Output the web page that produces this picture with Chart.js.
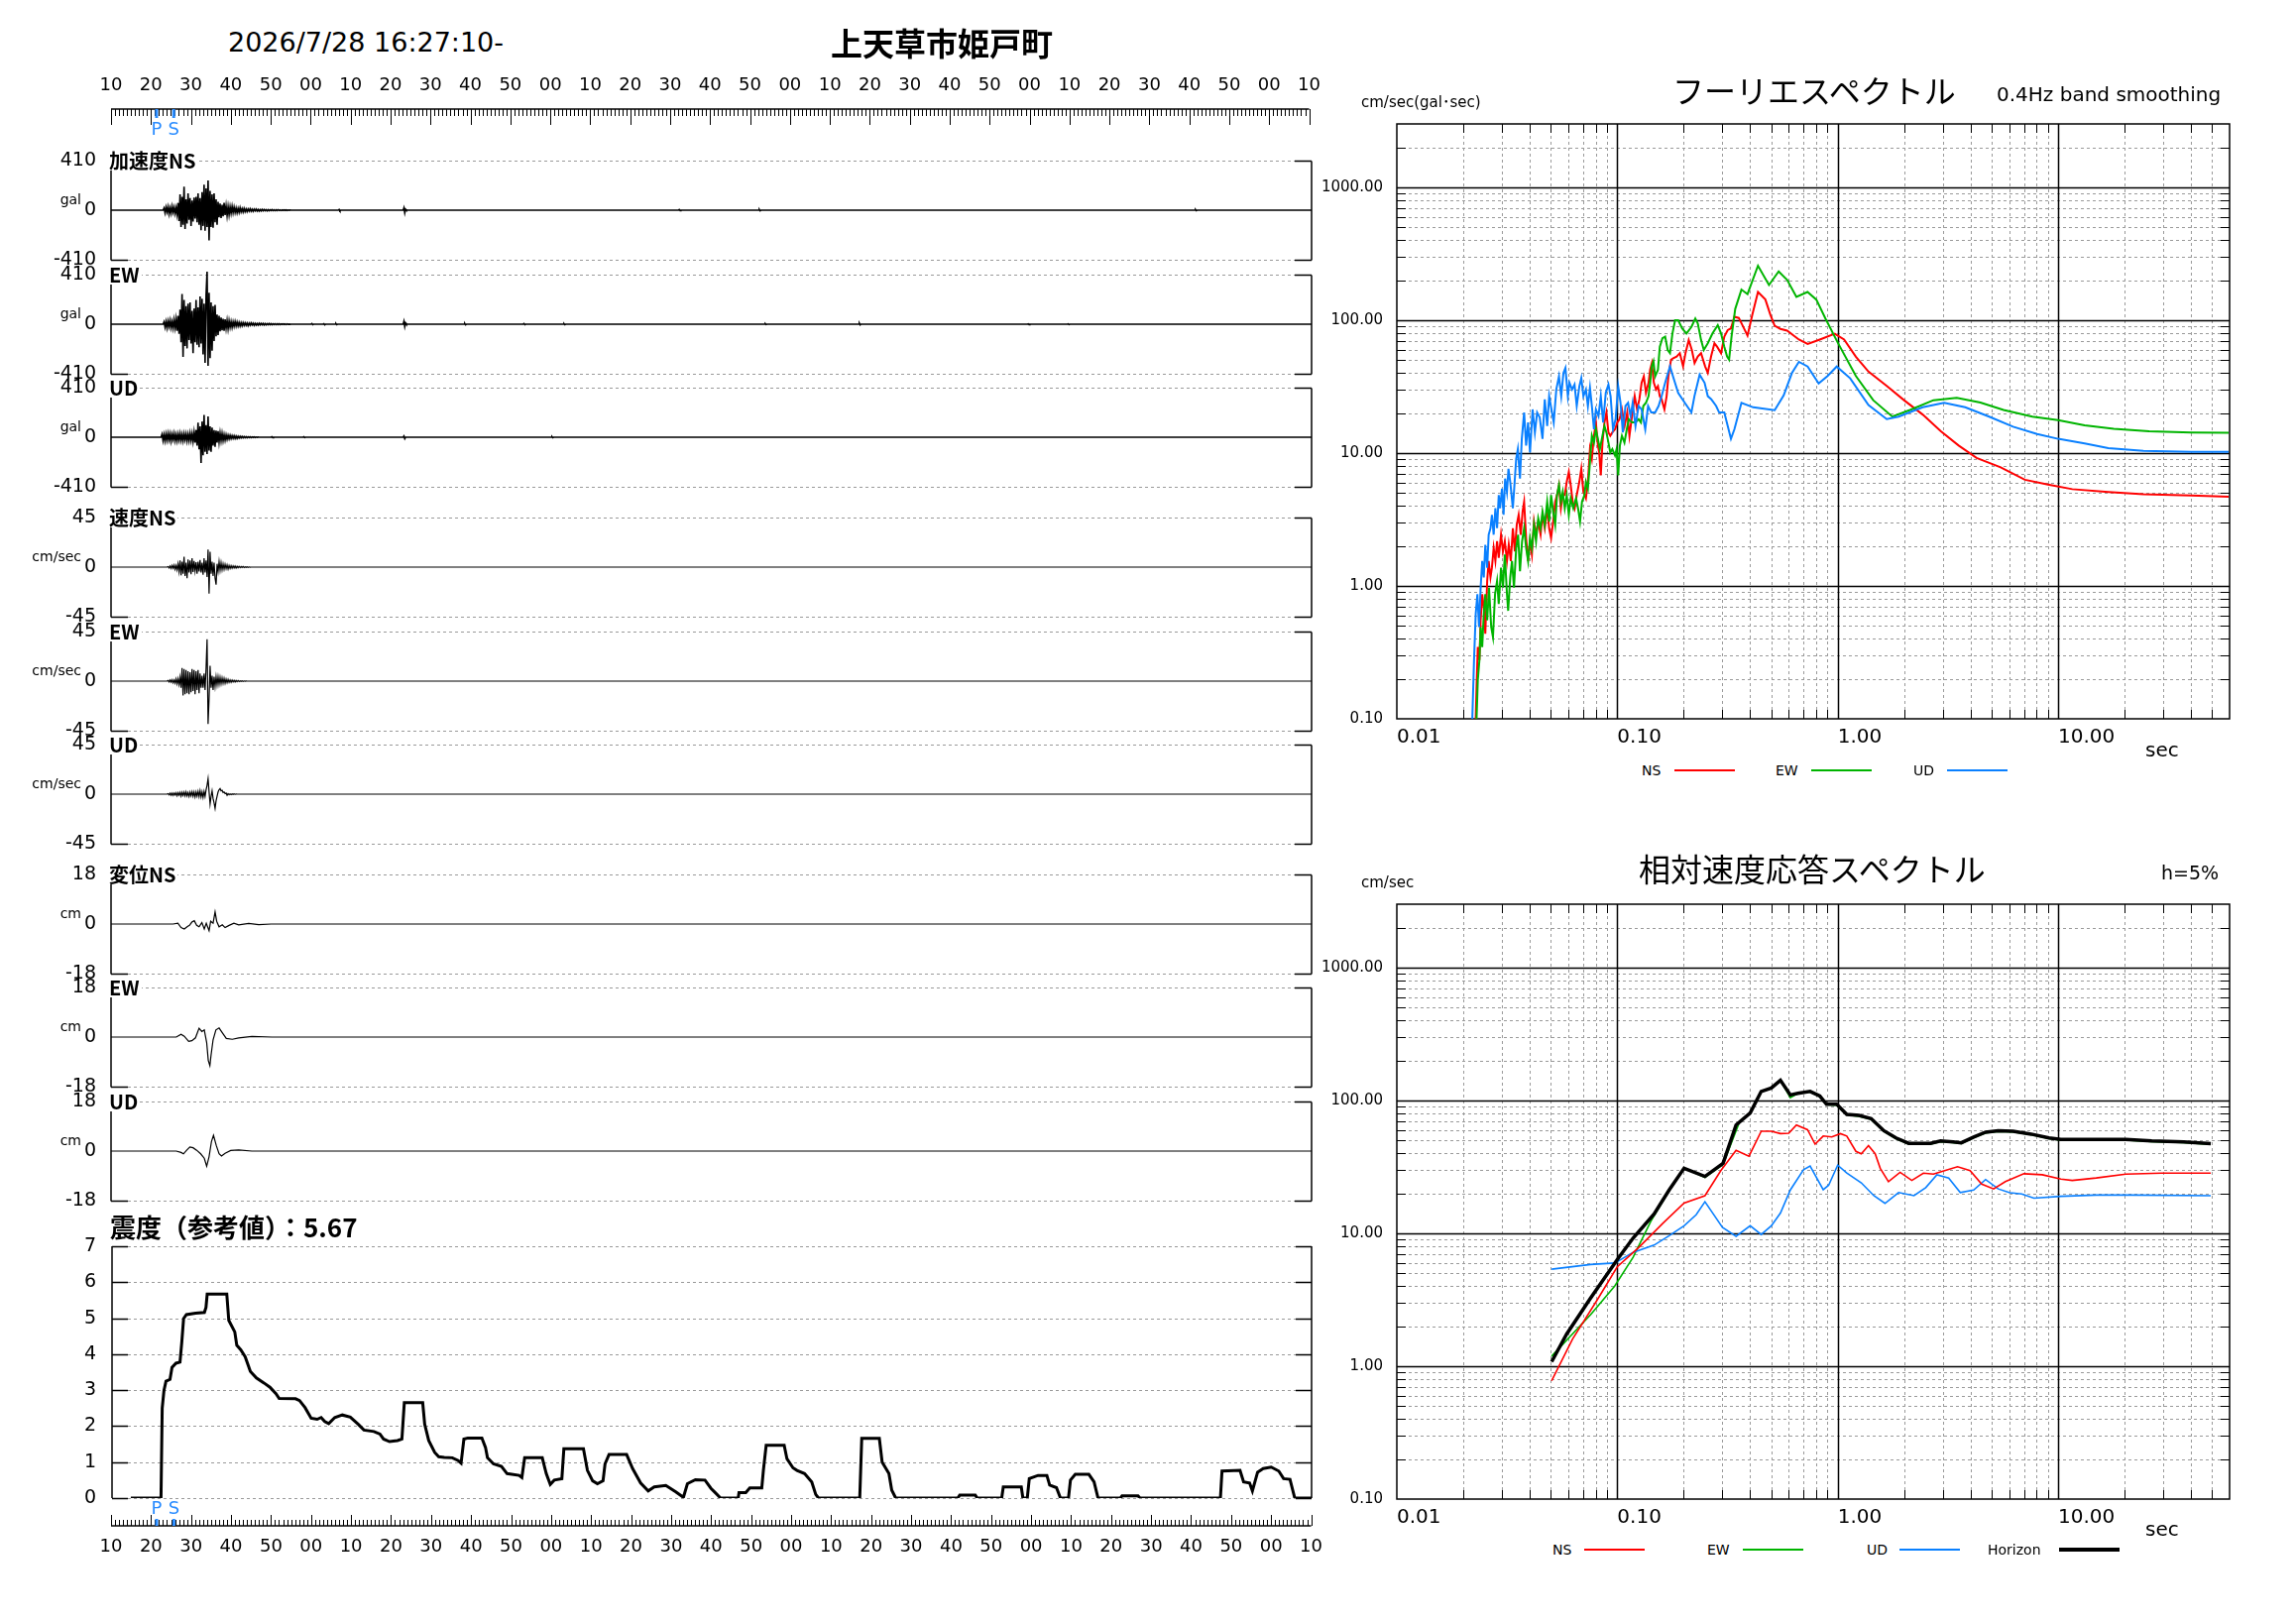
<!DOCTYPE html>
<html>
<head>
<meta charset="utf-8">
<title>上天草市姫戸町</title>
<script src="https://cdn.jsdelivr.net/npm/chart.js@4.4.1/dist/chart.umd.min.js"></script>
<style>
html, body { margin: 0; padding: 0; background: #fff; }
#page { position: relative; width: 2316px; height: 1637px; overflow: hidden; background: #fff;
        font-family: "DejaVu Sans", "Noto Sans CJK JP", sans-serif; color: #000; }
canvas { position: absolute; }
.t { position: absolute; white-space: nowrap; line-height: 1; transform: translateY(-50%); z-index: 5; }
.r { transform: translate(-100%, -50%); }
.bg { background: #fff; padding-right: 2px; }
.jp { font-family: "Noto Sans CJK JP", "DejaVu Sans", sans-serif; }
.b { font-weight: bold; }
.key { position: absolute; z-index: 5; }
</style>
</head>
<body>
<div id="page"></div>
<script>
// ---- time axis: seconds after 16:27:10 ----
var timeTicks = ['10','20','30','40','50','00','10','20','30','40','50','00','10','20','30','40','50','00',
                 '10','20','30','40','50','00','10','20','30','40','50','00','10'];
var phaseNames = ['P', 'S'];
var phaseTimes = [11.4, 15.7];

var accRange = 410, velRange = 45, dispRange = 18;

// acceleration (gal), sampled every 0.25 s
var accDt = 0.25;
var accNSStart = 13.0;
var accNS = [0,18,-22,25,-15,28,-30,20,-25,32,-18,24,-28,20,-35,60,
  -90,130,-140,110,-120,195,-155,90,-110,140,-80,100,
  -130,80,-95,105,-70,110,-100,140,-120,100,-165,150,
  -130,210,-170,180,-140,245,-250,160,-140,130,-145,140,
  -100,90,-120,70,-60,55,-65,45,-50,60,-40,35,-45,30,-38,28,
  -25,32,-22,25,-20,18,-22,15,-18,20,-14,12,-15,14,-12,10,
  -12,10,-8,12,-9,7,-10,8,-6,9,-7,6,-8,5,-6,7,-5,6,-4,5,-6,4,-5,4,
  -3,5,-4,3,-4,3,-3,4,-3,2,-3,2,-2,3,-2,2,-2,2,-1,1,0];
var accNSBlips = [[56.8,0],[57.0,6],[57.2,-5],[57.4,0],[73.0,0],[73.2,20],[73.4,-22],[73.6,8],[73.8,0],
  [141.8,0],[142.0,5],[142.2,-4],[142.4,0],[161.8,0],[162.0,6],[162.2,-5],[162.4,0],
  [270.8,0],[271.0,5],[271.2,-4],[271.4,0]];

var accEWStart = 13.0;
var accEW = [0,20,-25,22,-30,26,-20,30,-28,22,-32,35,-30,40,-55,70,
  -80,120,-150,250,-270,200,-180,150,-200,170,-130,180,
  -160,110,-240,130,-150,200,-170,140,-190,230,-160,210,
  -250,170,-320,240,435,-345,260,-280,180,-220,150,-140,
  160,-100,80,-90,70,-60,55,-50,45,-55,40,-35,30,-38,28,-25,
  22,-26,20,-18,22,-16,18,-15,14,-16,12,-14,12,-10,11,-9,
  10,-12,8,-9,10,-7,8,-9,7,-8,6,-7,8,-6,7,-5,6,-7,5,-6,5,-4,6,-5,
  4,-5,4,-3,4,-4,3,-3,4,-3,3,-2,3,-2,2,-3,2,-2,1,-1,0];
var accEWBlips = [[50.0,0],[50.2,5],[50.4,-4],[50.6,0],[53.0,0],[53.2,4],[53.4,-5],[53.6,0],
  [56.0,0],[56.2,5],[56.4,-4],[56.6,0],[73.0,0],[73.2,24],[73.4,-20],[73.6,10],[73.8,0],
  [88.2,0],[88.4,6],[88.6,-5],[88.8,0],[103.0,0],[103.2,5],[103.4,-4],[103.6,0],
  [113.0,0],[113.2,4],[113.4,-4],[113.6,0],[163.3,0],[163.5,4],[163.7,-3],[163.9,0],
  [186.8,0],[187.0,7],[187.2,-6],[187.4,0],[229.0,0],[229.2,3],[229.4,-3],[229.6,0],
  [239.0,0],[239.2,3],[239.4,-3],[239.6,0]];

var accUDStart = 12.5;
var accUD = [0,25,-28,22,-30,27,-25,30,-22,28,-32,25,-20,30,-28,22,-30,26,-24,30,-26,24,-30,28,
  -22,27,-30,25,-28,32,-26,30,-35,40,-45,60,-70,120,-100,90,-213,130,-150,184,-120,100,-140,173,
  -110,90,-120,80,-70,60,-80,55,-45,50,-40,35,-30,32,-28,22,-25,20,-18,16,-14,15,-12,13,-10,12,
  -11,9,-10,8,-7,8,-6,7,-5,6,-5,4,-5,4,-3,4,-3,3,-2,3,-2,2,-1,1,0];
var accUDBlips = [[40.0,0],[40.2,4],[40.4,-3],[40.6,0],[48.0,0],[48.2,4],[48.4,-3],[48.6,0],
  [73.0,0],[73.2,10],[73.4,-12],[73.6,0],[110.0,0],[110.2,4],[110.4,-4],[110.6,0]];

// velocity (cm/sec), sampled every 0.25 s from 14.0 s
var velDt = 0.25, velStart = 14.0;
var velNS = [0,0.5,-0.8,1.0,-1.2,1.5,-1.0,1.8,-2.0,1.5,-2.5,3.0,-4.0,6.0,-7.5,5.0,-6.0,9.4,-8.0,4.0,
  -10.0,7.0,-5.0,6.0,-6.5,8.0,-4.5,5.5,-3.5,4.5,-6.0,5.0,-4.0,6.5,-5.0,4.0,-7.0,8.0,-5.0,6.0,
  -9.0,16.0,-24.0,14.0,-6.0,5.0,-8.0,4.0,-10.0,-16.0,3.0,-4.0,5.0,-3.0,4.0,-2.5,3.0,-2.0,2.5,-1.5,
  2.0,-1.8,1.5,-1.2,1.4,-1.0,1.2,-0.8,1.0,-0.9,0.8,-0.6,0.7,-0.5,0.6,-0.4,0.5,-0.4,0.3,-0.3,
  0.3,-0.2,0.2,-0.1,0];
var velEW = [0,0.6,-0.8,1.0,-0.9,1.2,-1.5,1.0,-1.8,2.0,-2.5,2.2,-3.0,3.5,-6.0,12.0,-13.0,11.0,-12.0,10.0,
  -11.0,9.0,-12.0,8.0,-10.0,11.0,-9.0,10.0,-12.0,9.0,-8.0,10.0,-11.0,7.0,-6.0,5.0,-6.0,7.0,-8.0,12.0,
  38.0,-39.0,-16.0,14.0,-6.0,5.0,-8.0,4.0,-5.0,4.0,-3.5,4.0,-3.0,3.5,-2.5,3.0,-2.0,2.5,-2.0,1.8,
  -1.5,1.6,-1.2,1.0,-1.2,0.9,-0.8,0.7,-0.8,0.6,-0.5,0.5,-0.4,0.3,-0.3,0.2,-0.2,0.2,-0.1,0.1,0];
var velUD = [0,0.5,-0.7,0.8,-1.0,0.9,-1.2,1.0,-0.8,1.2,-1.5,1.3,-1.0,1.5,-1.8,1.6,-1.2,1.8,-1.5,2.0,
  -1.6,1.4,-2.0,1.8,-1.5,2.2,-1.8,2.0,-2.5,2.0,-1.8,2.5,-2.2,3.0,-2.5,2.0,-3.0,2.5,-2.0,4.0,
  8.0,14.0,2.0,-9.0,-2.0,3.0,-4.0,-8.0,-13.0,-6.0,-2.0,2.0,4.0,5.0,3.0,3.5,1.5,2.0,0.5,1.0,
  -1.0,0.5,-0.5,0.3,-0.4,0.3,-0.3,0.2,-0.2,0.1,0];

// displacement (cm), [time, value]
var dispNS = [[15.5,0],[16.7,0.3],[17.5,-1.3],[18.3,-1.8],[19.1,-0.9],[19.6,-0.5],[20.2,0.7],[20.8,1.2],
  [21.4,-0.5],[22.0,-1.0],[22.7,0.5],[23.3,-1.8],[23.8,0.3],[24.5,-2.4],[24.9,1.0],[25.5,0.3],[26.0,4.4],
  [26.4,1.0],[27.0,-1.0],[27.8,-0.3],[28.5,-1.3],[29.5,-0.5],[30.7,0.3],[31.9,-0.3],[34.4,0.2],[36.9,-0.2],[40,0]];
var dispEW = [[16.3,0],[17.5,1.0],[18.3,0.3],[19.4,-1.6],[20.2,-1.3],[21.1,-0.3],[22.0,3.2],[22.7,2.0],
  [23.3,2.6],[23.9,-2.0],[24.3,-8.5],[24.7,-10.4],[25.0,-6.5],[25.5,-1.0],[26.2,2.6],[27.0,3.3],[27.8,1.6],
  [28.8,-0.5],[30.3,-0.8],[31.9,-0.3],[35.2,0.2],[40.2,0]];
var dispUD = [[16.3,0],[17.5,-0.5],[18.1,-1.0],[18.9,0.3],[19.7,1.5],[20.5,1.2],[21.4,0.3],[22.4,-1.0],
  [23.3,-2.6],[23.9,-5.5],[24.5,-2.0],[25.1,3.5],[25.6,5.7],[26.3,2.0],[27.0,-1.0],[27.6,-1.8],[28.5,-0.8],
  [29.9,0.2],[31.9,0.4],[35.2,0],[40,0]];

// seismic intensity (reference value), [time, value]
var intensityTitle = '震度（参考値）：5.67';
var intensityTicks = [0, 1, 2, 3, 4, 5, 6, 7];
var intensity = [[4.7,0],[12.25,0],[12.55,2.5],[13.0,3.0],[13.5,3.25],[14.5,3.3],[15.0,3.63],[16.0,3.75],
  [17.0,3.78],[17.45,4.34],[17.9,4.99],[18.6,5.1],[20.9,5.14],[23.1,5.16],[23.5,5.3],[23.8,5.67],[28.7,5.67],
  [29.2,4.94],[30.7,4.62],[31.2,4.25],[32.2,4.12],[33.3,3.93],[34.6,3.52],[36.1,3.34],[38.0,3.2],[39.5,3.08],
  [41.0,2.9],[41.8,2.77],[45.9,2.76],[46.9,2.71],[48.3,2.51],[49.8,2.22],[51.3,2.19],[52.3,2.24],[53.2,2.13],
  [54.2,2.07],[55.7,2.24],[57.6,2.31],[59.6,2.25],[61.6,2.05],[63.0,1.89],[65.5,1.85],[67.0,1.78],[67.9,1.64],
  [69.4,1.57],[71.4,1.6],[72.5,1.64],[73.1,2.65],[77.7,2.65],[78.2,2.05],[79.2,1.6],[80.7,1.27],[81.7,1.15],
  [83.1,1.13],[85.1,1.12],[86.6,1.04],[87.3,0.97],[88.0,1.64],[89.0,1.67],[92.5,1.67],[93.4,1.41],[93.9,1.12],
  [95.4,0.95],[97.4,0.88],[98.8,0.68],[101.8,0.63],[102.5,0.57],[103.2,1.12],[107.6,1.12],[108.6,0.68],
  [109.6,0.38],[110.6,0.5],[112.5,0.54],[113.0,1.37],[117.9,1.37],[118.9,0.77],[120.2,0.48],[121.4,0.4],
  [122.8,0.48],[123.3,0.95],[124.3,1.21],[128.7,1.21],[130.2,0.82],[132.2,0.42],[134.1,0.2],[135.6,0.31],
  [138.5,0.35],[141.0,0.17],[142.9,0.02],[143.9,0.4],[145.9,0.51],[148.3,0.5],[149.8,0.27],[150.7,0.17],
  [152.2,0],[156.6,0],[156.8,0.15],[158.5,0.15],[159.5,0.28],[162.5,0.28],[162.9,0.77],[163.6,1.47],
  [168.1,1.47],[168.8,1.09],[170.3,0.84],[171.3,0.77],[173.2,0.68],[175.0,0.45],[176.0,0.1],[176.7,0],
  [187.0,0],[187.5,1.66],[191.9,1.66],[192.6,1.0],[194.3,0.68],[195.0,0.22],[196.0,0],[211.5,0],[212.0,0.08],
  [215.9,0.08],[216.4,0],[222.5,0],[222.9,0.31],[227.4,0.31],[227.8,0],[228.9,0],[229.4,0.54],[231.6,0.63],
  [233.8,0.63],[234.5,0.36],[236.2,0.29],[237.2,0],[239.2,0],[239.7,0.5],[240.9,0.66],[244.3,0.66],
  [245.6,0.45],[246.6,0],[252.2,0],[252.6,0.06],[256.6,0.06],[257.1,0],[277.2,0],[277.6,0.75],[282.1,0.77],
  [283.0,0.45],[284.5,0.42],[285.2,0.2],[286.5,0.72],[287.9,0.82],[289.9,0.86],[291.8,0.75],[293.0,0.54],
  [294.6,0.52],[295.8,0],[300,0]];

// Fourier spectrum, [period sec, cm/sec]
var fourierNS = [[0.0228,0.1],[0.023,0.174],[0.0233,0.347],[0.0237,0.277],[0.024,0.55],[0.0244,0.867],[0.0248,0.69],
  [0.0252,0.437],[0.0257,1.09],[0.0261,1.54],[0.0266,1.16],[0.027,1.37],[0.0275,1.93],[0.028,1.54],[0.0285,2.17],
  [0.029,1.63],[0.0297,2.43],[0.0303,1.82],[0.0309,2.17],[0.0316,1.54],[0.0322,2.05],[0.0329,1.54],[0.0336,2.72],
  [0.0343,1.82],[0.035,2.88],[0.0357,3.43],[0.0365,2.43],[0.0372,3.62],[0.0378,4.3],[0.0386,2.29],[0.0394,1.54],
  [0.0402,2.17],[0.041,1.72],[0.0419,3.05],[0.0428,2.43],[0.0438,3.05],[0.0449,2.43],[0.0458,3.43],[0.0469,2.72],
  [0.0481,3.84],[0.0491,2.72],[0.0501,2.29],[0.0512,3.05],[0.0523,4.3],[0.0533,4.83],[0.0544,5.73],[0.0555,3.84],
  [0.0566,4.83],[0.0578,4.83],[0.059,6.07],[0.0603,7.2],[0.0615,5.73],[0.0628,4.3],[0.0641,3.84],[0.0655,4.83],
  [0.0673,6.07],[0.0687,7.62],[0.0702,5.1],[0.0721,4.56],[0.0736,6.07],[0.0752,10.7],[0.0767,9.06],[0.0784,13.5],
  [0.08,17],[0.0817,11.4],[0.0828,10.1],[0.0842,6.8],[0.0857,12],[0.0875,17],[0.0893,20.2],[0.0912,14.3],
  [0.093,13.5],[0.095,14.3],[0.0977,15.1],[0.1,17],[0.1024,18],[0.105,21.3],[0.108,16],[0.111,20.2],[0.1136,13.5],
  [0.1167,19],[0.12,26.8],[0.123,21.3],[0.126,25.4],[0.129,33.8],[0.132,37.8],[0.135,28.4],[0.1387,33.8],
  [0.141,42.4],[0.1435,47.5],[0.1466,33.8],[0.15,30.1],[0.153,31.8],[0.156,26.8],[0.159,25.4],[0.1637,21.3],
  [0.1675,26.8],[0.1706,37.8],[0.1754,50.4],[0.1795,51.8],[0.186,53.3],[0.1923,56.5],[0.199,44.9],[0.204,56.5],
  [0.211,71],[0.218,59.7],[0.2243,47.5],[0.232,53.3],[0.24,56.5],[0.2505,44.9],[0.2575,40.1],[0.2665,53.3],
  [0.276,67],[0.2837,63.2],[0.2958,56.5],[0.306,75.2],[0.317,84.2],[0.328,86.7],[0.34,106],[0.356,104],
  [0.372,90],[0.39,76.6],[0.41,110],[0.435,163],[0.47,143],[0.495,110],[0.518,90.7],[0.55,86],[0.59,83.5],
  [0.667,71.5],[0.731,66.2],[0.83,71.5],[0.97,79],[1.07,71.5],[1.21,53],[1.38,41],[1.67,32],[2.0,25],[2.43,19.5],
  [2.94,14.6],[3.54,11.4],[4.27,9.2],[5.49,7.8],[7.07,6.3],[9.0,5.8],[11.6,5.35],[16.9,5.1],[24.4,4.9],
  [40.1,4.8],[59.4,4.7]];
var fourierEW = [[0.023,0.1],[0.0233,0.195],[0.0237,0.277],[0.024,0.49],[0.0244,0.347],[0.0248,0.617],[0.0252,0.867],
  [0.0257,0.55],[0.0262,0.97],[0.0268,0.49],[0.0273,0.412],[0.0279,0.867],[0.0285,1.09],[0.029,0.73],[0.0297,1.37],
  [0.0303,0.97],[0.0309,1.72],[0.0316,0.867],[0.032,0.65],[0.0327,1.16],[0.0333,1.54],[0.034,0.97],[0.0348,1.93],
  [0.0355,2.43],[0.0362,1.29],[0.037,2.17],[0.0378,2.72],[0.0386,1.93],[0.0394,1.54],[0.0402,2.29],[0.041,1.93],
  [0.0419,2.88],[0.0428,2.17],[0.0438,3.24],[0.0449,2.72],[0.0458,3.62],[0.0469,2.88],[0.0481,4.3],[0.0491,3.05],
  [0.0501,4.83],[0.0512,3.62],[0.0523,2.88],[0.0533,4.83],[0.0544,5.73],[0.0555,4.3],[0.0566,5.1],[0.0578,3.84],
  [0.059,4.83],[0.0603,3.43],[0.0615,4.56],[0.0632,3.84],[0.065,4.56],[0.0664,3.84],[0.0678,3.05],[0.0692,4.3],
  [0.071,4.83],[0.0721,6.07],[0.0736,5.41],[0.0752,8.55],[0.0767,13.5],[0.0784,12],[0.08,15.1],[0.0817,12.8],
  [0.0834,10.7],[0.0857,13.5],[0.0875,16],[0.0893,14.3],[0.0912,12],[0.093,10.1],[0.095,10.7],[0.0977,9.6],
  [0.0993,10.7],[0.101,6.8],[0.1028,11.4],[0.105,13.5],[0.1078,12],[0.1105,15.1],[0.1128,18],[0.1167,17],
  [0.121,17],[0.125,18],[0.128,17],[0.1313,22.6],[0.135,23.9],[0.1387,26.8],[0.141,33.8],[0.1435,44.9],[0.146,49],
  [0.1486,37.8],[0.153,42.4],[0.156,63.2],[0.1603,73],[0.165,75.2],[0.1694,59.7],[0.1735,56.5],[0.178,79.5],
  [0.183,100],[0.189,100],[0.197,86.7],[0.206,79.5],[0.217,89],[0.226,103],[0.232,94.4],[0.24,71],[0.247,59.7],
  [0.2575,67],[0.2705,79.5],[0.2858,91.8],[0.2958,79.5],[0.306,63.2],[0.315,53.3],[0.3217,50.4],[0.33,75.2],
  [0.343,121.6],[0.366,170],[0.39,157],[0.435,257],[0.488,184],[0.54,233],[0.59,201],[0.65,150],[0.73,163],
  [0.8,143],[0.88,103],[1.0,68],[1.21,38],[1.45,25],[1.77,18.8],[2.13,21.1],[2.72,25],[3.47,26],[4.44,24],
  [5.66,21.1],[7.65,18.8],[10,17.7],[13.2,16.2],[17.9,15.2],[25.9,14.6],[40.1,14.3],[59.4,14.2]];
var fourierUD = [[0.022,0.1],[0.0224,0.277],[0.0228,0.617],[0.0232,0.867],[0.0236,0.49],[0.024,0.97],[0.0244,1.54],
  [0.0248,1.16],[0.0252,2.04],[0.0257,1.37],[0.0261,2.43],[0.0266,2.72],[0.027,3.43],[0.0275,2.43],[0.028,3.84],
  [0.0285,2.72],[0.029,4.83],[0.0294,3.84],[0.03,5.41],[0.0305,3.43],[0.031,6.43],[0.0316,5.1],[0.0321,7.62],
  [0.0327,6.07],[0.0336,3.84],[0.034,5.1],[0.0348,9.06],[0.0354,10.7],[0.0362,6.43],[0.0369,12.8],[0.0378,20.2],
  [0.0386,11.4],[0.0394,17],[0.0402,10.1],[0.0413,21.3],[0.0423,14.3],[0.0433,20.2],[0.0445,18.5],[0.0458,12.8],
  [0.0469,25.4],[0.0481,16],[0.0491,26.8],[0.0503,21.3],[0.0515,17],[0.0529,30.1],[0.0544,37.8],[0.0557,26.8],
  [0.057,40.1],[0.0582,43.7],[0.0597,26.8],[0.0607,33.8],[0.0624,30.1],[0.064,32.8],[0.0655,22.6],[0.0673,31.8],
  [0.0687,36.7],[0.0702,26.8],[0.0721,30.1],[0.0736,22.6],[0.0752,31],[0.0767,22.6],[0.0784,15.1],[0.08,21.3],
  [0.0822,19],[0.0842,26.8],[0.0863,17],[0.0887,28.4],[0.0912,32.8],[0.0933,26.8],[0.0957,15.1],[0.0983,18],
  [0.101,31.8],[0.1035,23.9],[0.106,14.3],[0.109,22.6],[0.112,23.9],[0.115,19],[0.1175,23.9],[0.121,16],
  [0.125,22.6],[0.129,21.3],[0.134,15.1],[0.138,22.6],[0.1426,20.2],[0.1486,20.2],[0.154,22.6],[0.159,26.8],
  [0.165,33.8],[0.1735,44.9],[0.18,36.7],[0.189,28.4],[0.2025,23.9],[0.217,20.2],[0.224,26.8],[0.2365,38.9],
  [0.249,33.8],[0.2575,26.8],[0.267,25.4],[0.281,22.6],[0.29,20.2],[0.306,20.2],[0.317,16],[0.328,12.8],
  [0.34,15.1],[0.366,23.9],[0.414,22.1],[0.518,21],[0.569,27.2],[0.62,40],[0.667,48.6],[0.731,44.8],[0.82,33.4],
  [0.9,38],[0.99,44.8],[1.14,36.5],[1.38,23],[1.67,18],[1.89,18.8],[2.43,22.1],[3.04,23.9],[3.79,22.1],
  [4.87,18.8],[6.25,15.8],[8.03,13.9],[10,12.8],[13.2,11.8],[16.9,10.9],[24.4,10.4],[40.1,10.2],[59.4,10.2]];

// relative velocity response spectrum h=5%, [period sec, cm/sec]
var responseNS = [[0.0504,0.777],[0.0627,1.6],[0.0808,3.12],[0.1,5.6],[0.125,7.8],[0.161,11.9],[0.201,16.9],
  [0.25,19.2],[0.295,29.6],[0.346,42.1],[0.396,38.1],[0.45,58.7],[0.5,58.7],[0.55,56.3],[0.6,56.7],[0.65,65.4],
  [0.73,60.2],[0.79,46.9],[0.86,54],[0.94,53.1],[1.03,56.3],[1.1,54],[1.21,41.4],[1.28,39.7],[1.38,45.8],
  [1.48,39.7],[1.56,30.9],[1.7,24.5],[1.92,28.8],[2.17,25],[2.45,28.4],[2.72,27.9],[2.98,29.2],[3.5,31.7],
  [3.99,29.6],[4.5,23.5],[5.1,21.6],[5.77,24.5],[7.0,28.1],[8.48,27.6],[10.3,25.6],[11.6,25],[14.9,26.1],
  [20.3,27.9],[29.5,28.4],[49.3,28.4]];
var responseEW = [[0.0504,1.19],[0.0757,2.44],[0.0975,4.02],[0.118,6.6],[0.142,12.3],[0.172,21],[0.201,31],
  [0.25,26.3],[0.302,33],[0.36,70],[0.401,80.5],[0.45,117],[0.5,124],[0.55,142],[0.61,105],[0.66,113],[0.75,116],
  [0.83,107],[0.89,93],[0.99,92],[1.1,78],[1.25,76],[1.42,72],[1.62,58.5],[1.84,51.5],[2.1,47],[2.64,47],
  [2.93,49],[3.34,48.2],[3.64,47.4],[4.14,52.5],[4.69,57],[5.35,58.5],[6.25,58],[7.55,55.2],[9.1,51.6],
  [10.3,50.3],[14.9,50.3],[20.3,50.3],[26.6,49],[37.1,48.2],[49.3,46.7]];
var responseUD = [[0.0504,5.37],[0.0757,5.83],[0.0975,5.98],[0.118,7.19],[0.147,8.15],[0.172,9.6],[0.201,11.4],
  [0.228,13.8],[0.25,17.3],[0.3,11.1],[0.346,9.5],[0.401,11.4],[0.45,9.8],[0.5,11.4],[0.55,14.2],[0.61,21.2],
  [0.7,30.1],[0.75,32.1],[0.86,21.3],[0.91,23],[1.0,32.6],[1.1,28.4],[1.28,24],[1.46,19.2],[1.64,16.8],
  [1.89,20.3],[2.22,19.2],[2.51,22.1],[2.82,27.6],[3.19,26.1],[3.6,20.3],[4.14,21.2],[4.69,25.4],[5.35,21.6],
  [6.04,20.2],[6.84,19.8],[7.77,18.4],[10.3,19],[14.9,19.4],[21.6,19.4],[49.3,19.2]];
var responseHorizon = [[0.0504,1.08],[0.0589,1.74],[0.0757,3.26],[0.1,6.34],[0.118,9.2],[0.147,14],[0.172,21.2],
  [0.201,30.9],[0.25,26.8],[0.302,33.6],[0.346,65.4],[0.401,80.5],[0.45,117],[0.5,124],[0.55,142],[0.61,110],
  [0.66,113],[0.75,117],[0.83,108],[0.89,93.6],[0.99,93.6],[1.1,78.5],[1.25,77.2],[1.42,73],[1.62,59.2],
  [1.84,52.2],[2.1,47.6],[2.64,47.6],[2.93,49.6],[3.34,48.8],[3.64,48],[4.14,53.1],[4.69,57.7],[5.35,59.2],
  [6.25,58.7],[7.55,55.8],[9.1,52.2],[10.3,50.9],[14.9,50.9],[20.3,50.9],[26.6,49.6],[37.1,48.8],[49.3,47.3]];

var periodTicks = [0.01, 0.1, 1, 10];
var ampTicks = [0.1, 1, 10, 100, 1000];

var colNS = '#ff0000', colEW = '#00b400', colUD = '#0a80ff', colPhase = '#2a8cff';

// ---------------------------------------------------------------
var page = document.getElementById('page');
Chart.defaults.font.family = '"DejaVu Sans", "Noto Sans CJK JP", sans-serif';
Chart.defaults.color = '#000';

function makeCanvas(left, top, w, h) {
  var c = document.createElement('canvas');
  c.width = w; c.height = h;
  c.style.left = left + 'px'; c.style.top = top + 'px';
  c.style.width = w + 'px'; c.style.height = h + 'px';
  page.appendChild(c);
  return c;
}
function text(str, x, y, size, cls, color) {
  var d = document.createElement('div');
  d.className = 't ' + (cls || '');
  d.style.left = x + 'px'; d.style.top = y + 'px'; d.style.fontSize = size + 'px';
  if (color) d.style.color = color;
  d.textContent = str;
  page.appendChild(d);
}
function key(x1, x2, y, color, w) {
  var d = document.createElement('div');
  d.className = 'key';
  d.style.left = x1 + 'px'; d.style.top = (y - w / 2) + 'px';
  d.style.width = (x2 - x1) + 'px'; d.style.height = w + 'px';
  d.style.background = color;
  page.appendChild(d);
}
function seg(ctx, x1, y1, x2, y2) {
  ctx.beginPath(); ctx.moveTo(x1, y1); ctx.lineTo(x2, y2); ctx.stroke();
}
function sampled(t0, dt, values, extra) {
  var pts = [{x: 0, y: 0}];
  values.forEach(function (v, i) { pts.push({x: t0 + i * dt, y: v}); });
  (extra || []).forEach(function (p) { pts.push({x: p[0], y: p[1]}); });
  pts.push({x: 300, y: 0});
  return pts;
}
function pairs(list, pad) {
  var pts = list.map(function (p) { return {x: p[0], y: p[1]}; });
  if (pad) { pts.unshift({x: 0, y: 0}); pts.push({x: 300, y: 0}); }
  return pts;
}
// y axis of fixed width, without extra room for the end labels
function fixedAxis(width) {
  return function (s) { s.width = width; s.paddingTop = 0; s.paddingBottom = 0; };
}

// frame of one waveform panel
var panelFrame = {
  id: 'panelFrame',
  beforeDatasetsDraw: function (chart) {
    var ctx = chart.ctx, a = chart.chartArea, y = chart.scales.y;
    var top = Math.round(y.getPixelForValue(y.max)) + 0.5;
    var bot = Math.round(y.getPixelForValue(y.min)) + 0.5;
    ctx.save();
    ctx.strokeStyle = '#9a9a9a'; ctx.lineWidth = 1; ctx.setLineDash([3, 3]);
    seg(ctx, a.left + 17, top, a.right - 17, top);
    seg(ctx, a.left + 17, bot, a.right - 17, bot);
    ctx.setLineDash([]); ctx.strokeStyle = '#000'; ctx.lineWidth = 1.5;
    seg(ctx, a.left, top, a.left + 17, top); seg(ctx, a.left, bot, a.left + 17, bot);
    seg(ctx, a.right - 17, top, a.right, top); seg(ctx, a.right - 17, bot, a.right, bot);
    seg(ctx, a.left, top, a.left, bot); seg(ctx, a.right, top, a.right, bot);
    ctx.restore();
  }
};

var intensityFrame = {
  id: 'intensityFrame',
  beforeDatasetsDraw: function (chart) {
    var ctx = chart.ctx, a = chart.chartArea, y = chart.scales.y;
    ctx.save();
    intensityTicks.forEach(function (v) {
      var py = Math.round(y.getPixelForValue(v)) + 0.5;
      ctx.setLineDash([3, 3]); ctx.strokeStyle = '#9a9a9a'; ctx.lineWidth = 1;
      seg(ctx, a.left + 16, py, a.right - 16, py);
      ctx.setLineDash([]); ctx.strokeStyle = '#000'; ctx.lineWidth = 1.5;
      seg(ctx, a.left, py, a.left + 16, py); seg(ctx, a.right - 16, py, a.right, py);
    });
    var t = y.getPixelForValue(y.max), b = y.getPixelForValue(y.min);
    seg(ctx, a.left, t, a.left, b); seg(ctx, a.right, t, a.right, b);
    ctx.restore();
  }
};

var ruler = {
  id: 'ruler',
  afterDraw: function (chart, args, o) {
    var ctx = chart.ctx, a = chart.chartArea, x = chart.scales.x;
    var base = o.edge === 'top' ? a.top : a.bottom;
    var dir = o.edge === 'top' ? 1 : -1;
    ctx.save();
    ctx.strokeStyle = '#000'; ctx.lineWidth = 1.5;
    seg(ctx, x.getPixelForValue(x.min), base, x.getPixelForValue(x.max), base);
    ctx.lineWidth = 1;
    ctx.beginPath();
    for (var s = x.min; s <= x.max; s++) {
      var px = Math.round(x.getPixelForValue(s)) + 0.5;
      var len = s % 10 === 0 ? o.major : o.minor;
      ctx.moveTo(px, base); ctx.lineTo(px, base + dir * len);
    }
    ctx.stroke();
    ctx.strokeStyle = colPhase; ctx.fillStyle = colPhase; ctx.lineWidth = 3;
    ctx.font = '18px "DejaVu Sans"'; ctx.textAlign = 'center'; ctx.textBaseline = 'middle';
    phaseTimes.forEach(function (t, i) {
      var p = x.getPixelForValue(t);
      seg(ctx, p, base, p, base + dir * o.phaseLen);
      ctx.fillText(phaseNames[i], p, base + dir * o.textOff);
    });
    ctx.restore();
  }
};

var logGrid = {
  id: 'logGrid',
  beforeDatasetsDraw: function (chart) {
    var ctx = chart.ctx, a = chart.chartArea, x = chart.scales.x, y = chart.scales.y;
    function levels(min, max) {
      var out = [];
      for (var e = Math.floor(Math.log10(min)); e <= Math.ceil(Math.log10(max)); e++) {
        for (var m = 1; m <= 9; m++) {
          var v = m * Math.pow(10, e);
          if (v > min * 1.0001 && v < max * 0.9999) out.push({v: v, major: m === 1});
        }
      }
      return out;
    }
    var xs = levels(x.min, x.max), ys = levels(y.min, y.max);
    ctx.save();
    ctx.setLineDash([3, 3]); ctx.strokeStyle = '#9a9a9a'; ctx.lineWidth = 1;
    xs.forEach(function (l) {
      if (l.major) return;
      var px = Math.round(x.getPixelForValue(l.v)) + 0.5;
      seg(ctx, px, a.top, px, a.bottom);
    });
    ys.forEach(function (l) {
      if (l.major) return;
      var py = Math.round(y.getPixelForValue(l.v)) + 0.5;
      seg(ctx, a.left, py, a.right, py);
    });
    ctx.setLineDash([]); ctx.strokeStyle = '#000'; ctx.lineWidth = 1;
    xs.forEach(function (l) {
      if (l.major) return;
      var px = Math.round(x.getPixelForValue(l.v)) + 0.5;
      seg(ctx, px, a.bottom - 9, px, a.bottom); seg(ctx, px, a.top, px, a.top + 9);
    });
    ys.forEach(function (l) {
      if (l.major) return;
      var py = Math.round(y.getPixelForValue(l.v)) + 0.5;
      seg(ctx, a.left, py, a.left + 9, py); seg(ctx, a.right - 9, py, a.right, py);
    });
    ctx.lineWidth = 1.5;
    xs.forEach(function (l) {
      if (!l.major) return;
      var px = Math.round(x.getPixelForValue(l.v)) + 0.5;
      seg(ctx, px, a.top, px, a.bottom);
    });
    ys.forEach(function (l) {
      if (!l.major) return;
      var py = Math.round(y.getPixelForValue(l.v)) + 0.5;
      seg(ctx, a.left, py, a.right, py);
    });
    ctx.strokeRect(a.left, a.top, a.right - a.left, a.bottom - a.top);
    ctx.restore();
  }
};

var baseOpts = {
  responsive: false, animation: false, devicePixelRatio: 1, events: [],
  plugins: {legend: {display: false}, tooltip: {enabled: false}}
};
function opts(extra) { return Object.assign({}, baseOpts, extra); }

// ---- header ----
text('2026/7/28 16:27:10-', 230, 42, 27);
text('上天草市姫戸町', 838, 42, 32, 'jp b');

// ---- top time ruler ----
new Chart(makeCanvas(0, 60, 1345, 80), {
  type: 'line',
  data: {datasets: []},
  options: opts({
    layout: {padding: {left: 112, right: 22, top: 0, bottom: 10}},
    scales: {
      x: {type: 'linear', position: 'top', min: 0, max: 300,
          afterFit: function (s) { s.height = 50; },
          grid: {display: false, drawTicks: false}, border: {display: false},
          ticks: {stepSize: 10, autoSkip: false, maxRotation: 0, padding: 13, font: {size: 18},
                  callback: function (v, i) { return timeTicks[i]; }}},
      y: {display: false}
    },
    plugins: Object.assign({}, baseOpts.plugins, {ruler: {edge: 'top', minor: 7, major: 16, phaseLen: 9, textOff: 21}})
  }),
  plugins: [ruler]
});

// ---- waveform panels ----
var panels = [
  {title: '加速度NS', unit: 'gal',    range: accRange,  top: 162,  lw: 1.6, data: sampled(accNSStart, accDt, accNS, accNSBlips)},
  {title: 'EW',       unit: 'gal',    range: accRange,  top: 277,  lw: 1.6, data: sampled(accEWStart, accDt, accEW, accEWBlips)},
  {title: 'UD',       unit: 'gal',    range: accRange,  top: 391,  lw: 1.6, data: sampled(accUDStart, accDt, accUD, accUDBlips)},
  {title: '速度NS',   unit: 'cm/sec', range: velRange,  top: 522,  lw: 1.2, data: sampled(velStart, velDt, velNS)},
  {title: 'EW',       unit: 'cm/sec', range: velRange,  top: 637,  lw: 1.2, data: sampled(velStart, velDt, velEW)},
  {title: 'UD',       unit: 'cm/sec', range: velRange,  top: 751,  lw: 1.2, data: sampled(velStart, velDt, velUD)},
  {title: '変位NS',   unit: 'cm',     range: dispRange, top: 882,  lw: 1.2, data: pairs(dispNS, true)},
  {title: 'EW',       unit: 'cm',     range: dispRange, top: 996,  lw: 1.2, data: pairs(dispEW, true)},
  {title: 'UD',       unit: 'cm',     range: dispRange, top: 1111, lw: 1.2, data: pairs(dispUD, true)}
];
var panelH = 100;

panels.forEach(function (p) {
  new Chart(makeCanvas(0, p.top - 15, 1345, panelH + 30), {
    type: 'line',
    data: {datasets: [{data: p.data, borderColor: '#000', borderWidth: p.lw, pointRadius: 0, tension: 0, clip: 8}]},
    options: opts({
      layout: {padding: {top: 15, bottom: 15, left: 0, right: 22}},
      scales: {
        x: {type: 'linear', min: 0, max: 300, display: false},
        y: {type: 'linear', min: -p.range, max: p.range,
            afterBuildTicks: function (s) { s.ticks = [-p.range, 0, p.range].map(function (v) { return {value: v}; }); },
            afterFit: fixedAxis(112),
            grid: {display: false, drawTicks: false}, border: {display: false},
            ticks: {font: {size: 19}, padding: 15}}
      }
    }),
    plugins: [panelFrame]
  });
  text(p.title, 110, p.top, 20, 'jp b bg');
  text(p.unit, 82, p.top + panelH / 2 - 11, 14, 'r');
});

// ---- seismic intensity ----
text(intensityTitle, 111, 1237, 26, 'jp b');
new Chart(makeCanvas(0, 1241, 1345, 288), {
  type: 'line',
  data: {datasets: [{data: pairs(intensity), borderColor: '#000', borderWidth: 3, pointRadius: 0, tension: 0}]},
  options: opts({
    layout: {padding: {top: 16, bottom: 18, left: 0, right: 22}},
    scales: {
      x: {type: 'linear', min: 0, max: 300, display: false},
      y: {type: 'linear', min: 0, max: 7,
          afterBuildTicks: function (s) { s.ticks = intensityTicks.map(function (v) { return {value: v}; }); },
          afterFit: fixedAxis(113),
          grid: {display: false, drawTicks: false}, border: {display: false},
          ticks: {font: {size: 19}, padding: 16}}
    }
  }),
  plugins: [intensityFrame]
});

// ---- bottom time ruler ----
new Chart(makeCanvas(0, 1495, 1345, 85), {
  type: 'line',
  data: {datasets: []},
  options: opts({
    layout: {padding: {left: 112, right: 22, top: 0, bottom: 5}},
    scales: {
      x: {type: 'linear', position: 'bottom', min: 0, max: 300,
          afterFit: function (s) { s.height = 36; },
          grid: {display: false, drawTicks: false}, border: {display: false},
          ticks: {stepSize: 10, autoSkip: false, maxRotation: 0, padding: 11, font: {size: 18},
                  callback: function (v, i) { return timeTicks[i]; }}},
      y: {display: false}
    },
    plugins: Object.assign({}, baseOpts.plugins, {ruler: {edge: 'bottom', minor: 6, major: 11, phaseLen: 7, textOff: 17}})
  }),
  plugins: [ruler]
});

// ---- spectra ----
function spectrum(top, datasets) {
  return new Chart(makeCanvas(1300, top, 970, 653), {
    type: 'line',
    data: {datasets: datasets},
    options: opts({
      layout: {padding: {top: 15, bottom: 8, left: 0, right: 21}},
      scales: {
        x: {type: 'logarithmic', min: 0.01, max: 60,
            afterBuildTicks: function (s) { s.ticks = periodTicks.map(function (v) { return {value: v}; }); },
            afterFit: function (s) { s.height = 30; },
            grid: {display: false, drawTicks: false}, border: {display: false},
            ticks: {align: 'start', autoSkip: false, maxRotation: 0, padding: 7, font: {size: 20},
                    callback: function (v) { return Number(v).toFixed(2); }}},
        y: {type: 'logarithmic', min: 0.1, max: 3000,
            afterBuildTicks: function (s) { s.ticks = ampTicks.map(function (v) { return {value: v}; }); },
            afterFit: fixedAxis(109),
            grid: {display: false, drawTicks: false}, border: {display: false},
            ticks: {padding: 14, font: {size: 15},
                    callback: function (v) { return Number(v).toFixed(2); }}}
      }
    }),
    plugins: [logGrid]
  });
}
function line(data, color, width) {
  return {data: pairs(data), borderColor: color, borderWidth: width, pointRadius: 0, tension: 0};
}

text('フーリエスペクトル', 1687, 90, 32, 'jp');
text('0.4Hz band smoothing', 2014, 95, 20);
text('cm/sec(gal･sec)', 1373, 103, 15);
spectrum(110, [line(fourierUD, colUD, 2), line(fourierEW, colEW, 2), line(fourierNS, colNS, 2)]);
text('sec', 2164, 756, 20);
text('NS', 1656, 777, 14); key(1689, 1750, 777, colNS, 2);
text('EW', 1791, 777, 14); key(1827, 1888, 777, colEW, 2);
text('UD', 1930, 777, 14); key(1964, 2025, 777, colUD, 2);

text('相対速度応答スペクトル', 1653, 875, 32, 'jp');
text('h=5%', 2180, 880, 19);
text('cm/sec', 1373, 890, 15);
spectrum(897, [line(responseHorizon, '#000', 3.5), line(responseNS, colNS, 1.6),
               line(responseUD, colUD, 1.6), line(responseEW, colEW, 1.6)]);
text('sec', 2164, 1542, 20);
text('NS', 1566, 1563, 14); key(1598, 1659, 1563, colNS, 2);
text('EW', 1722, 1563, 14); key(1758, 1819, 1563, colEW, 2);
text('UD', 1883, 1563, 14); key(1916, 1977, 1563, colUD, 2);
text('Horizon', 2005, 1563, 14); key(2077, 2138, 1563, '#000', 4);
</script>
</body>
</html>
